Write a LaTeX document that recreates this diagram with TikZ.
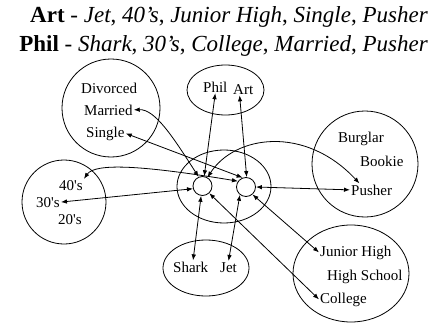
\documentclass[tikz,border=0pt]{standalone}
\usepackage{fontspec}
\setmainfont{Liberation Serif}
\usetikzlibrary{arrows.meta,shapes.geometric}
\begin{document}
\begin{tikzpicture}[x=1pt,y=-1pt,
  ring/.style={draw, ellipse, line width=0.8pt, inner sep=0pt},
  lbl/.style={inner sep=1pt, anchor=base west, font=\fontsize{15}{18}\selectfont},
  dot/.style={draw, circle, line width=0.8pt, minimum size=19pt, inner sep=0pt},
  biarrow/.style={line width=0.8pt, {Latex[length=6pt,width=4.5pt]}-{Latex[length=6pt,width=4.5pt]}},
  title/.style={anchor=base east, inner sep=0pt, font=\fontsize{23}{28}\selectfont}]
\useasboundingbox (0,0) rectangle (437,324);
% titles
\node[title] (t1) at (428,23) {\textbf{Art} - \textit{Jet}, \textit{40's}, \textit{Junior High}, \textit{Single}, \textit{Pusher}};
\node[title] (t2) at (428,52) {\textbf{Phil} - \textit{Shark}, \textit{30's}, \textit{College}, \textit{Married}, \textit{Pusher}};
% pools
\node[ring, minimum width=98pt, minimum height=98pt] (marital) at (111,108) {};
\node[ring, minimum width=77pt, minimum height=50pt] (names) at (225.5,90) {};
\node[ring, minimum width=94pt, minimum height=73pt] (hub) at (224,186.5) {};
\node[ring, minimum width=106pt, minimum height=106pt] (occup) at (365,164) {};
\node[ring, minimum width=84pt, minimum height=84pt] (ages) at (64,202) {};
\node[ring, minimum width=86pt, minimum height=56pt] (gangs) at (206,268) {};
\node[ring, minimum width=116pt, minimum height=97pt] (educ) at (351,273.5) {};
\node[dot] (c1) at (202.5,186) {};
\node[dot] (c2) at (246,187) {};
% labels
\node[lbl] (div) at (80,93) {Divorced};
\node[lbl] (mar) at (83,115) {Married};
\node[lbl] (sin) at (85,137) {Single};
\node[lbl] (phil) at (202,92) {Phil};
\node[lbl] (art) at (232,94) {Art};
\node[lbl] (burg) at (337,142) {Burglar};
\node[lbl] (book) at (359,166) {Bookie};
\node[lbl] (push) at (350,195) {Pusher};
\node[lbl] (a40) at (58,190) {40\textquotesingle s};
\node[lbl] (a30) at (35,207) {30\textquotesingle s};
\node[lbl] (a20) at (57,224) {20\textquotesingle s};
\node[lbl] (shark) at (172,272) {Shark};
\node[lbl] (jet) at (219,272) {Jet};
\node[lbl] (jh) at (319,256) {Junior High};
\node[lbl] (hs) at (326,280) {High School};
\node[lbl] (col) at (319,303) {College};
% connectors
\draw[biarrow] (mar.east) .. controls (155,109) and (173,137) .. (c1.113);
\draw[biarrow] (sin.east) -- (c2.110);
\draw[biarrow] (phil.south) -- (c1.80);
\draw[biarrow] (art.240) -- (c2.86);
\draw[biarrow] (c1.60) .. controls (235,135) and (305,125) .. (push.152);
\draw[biarrow] (c2.east) -- (push.west);
\draw[biarrow] (a40.north east) .. controls (95,163) and (140,165) .. (c2.144);
\draw[biarrow] (a30.east) -- (c1.196);
\draw[biarrow] (shark.70) -- (c1.262);
\draw[biarrow] (jet.north) -- (c2.232);
\draw[biarrow] (col.west) -- (c1.313);
\draw[biarrow] (jh.west) -- (c2.311);
\end{tikzpicture}
\end{document}
